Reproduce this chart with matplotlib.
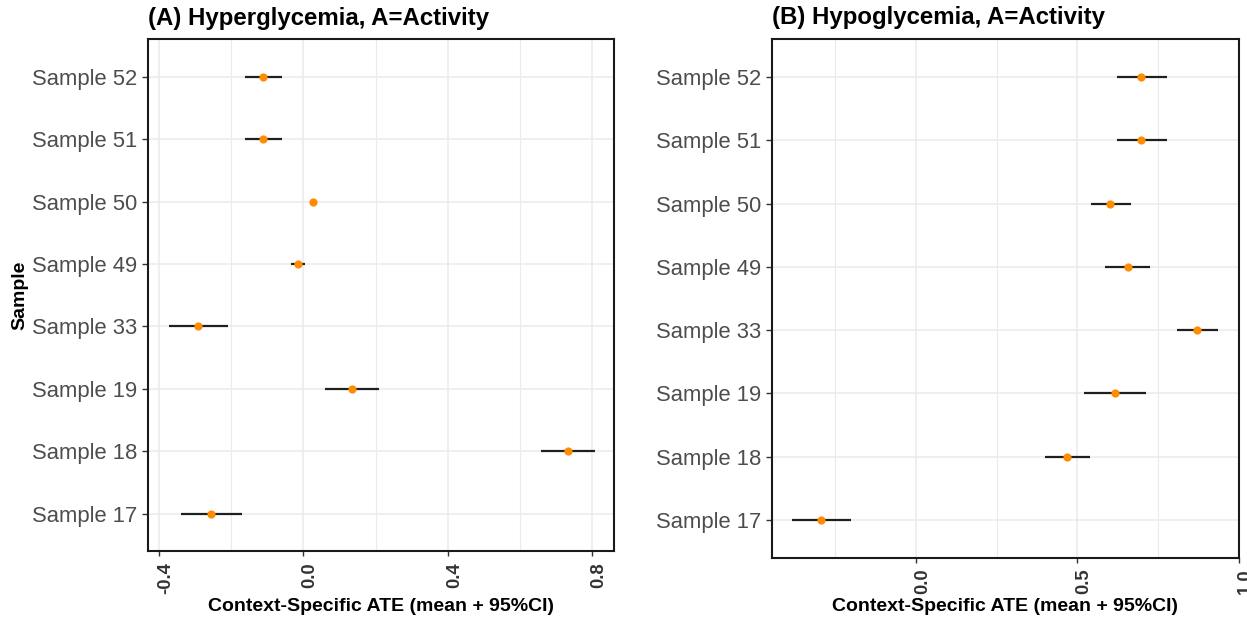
import matplotlib
matplotlib.use("Agg")
import matplotlib.pyplot as plt
from matplotlib.ticker import FixedLocator, FormatStrFormatter
from matplotlib.transforms import ScaledTranslation

plt.rcParams['font.family'] = ['Liberation Sans', 'DejaVu Sans']

# Samples listed bottom-to-top on the y axis
samples = ["Sample 17", "Sample 18", "Sample 19", "Sample 33",
           "Sample 49", "Sample 50", "Sample 51", "Sample 52"]

# (A) Hyperglycemia: context-specific ATE mean and 95% CI
hyper_mean = [-0.255, 0.733, 0.134, -0.291, -0.016, 0.026, -0.112, -0.112]
hyper_lo = [-0.339, 0.659, 0.060, -0.372, -0.034, 0.020, -0.163, -0.163]
hyper_hi = [-0.170, 0.808, 0.210, -0.209, 0.003, 0.032, -0.059, -0.059]

# (B) Hypoglycemia
hypo_mean = [-0.293, 0.469, 0.617, 0.871, 0.655, 0.602, 0.698, 0.698]
hypo_lo = [-0.383, 0.400, 0.520, 0.807, 0.584, 0.541, 0.621, 0.621]
hypo_hi = [-0.202, 0.539, 0.712, 0.936, 0.725, 0.665, 0.776, 0.776]

titles = ["(A) Hyperglycemia, A=Activity", "(B) Hypoglycemia, A=Activity"]
xlabel = "Context-Specific ATE (mean + 95%CI)"
major_a = [-0.4, 0.0, 0.4, 0.8]
minor_a = [-0.2, 0.2, 0.6]
major_b = [0.0, 0.5, 1.0]
minor_b = [-0.25, 0.25, 0.75]

W, H = 1247, 625
fig = plt.figure(figsize=(W / 100, H / 100), dpi=100)


def px_axes(left, top, right, bottom):
    return fig.add_axes([left / W, 1 - bottom / H, (right - left) / W, (bottom - top) / H])


ax_a = px_axes(148, 39.3, 614, 551)
ax_b = px_axes(771.7, 39.3, 1239, 557.7)

ypos = list(range(1, len(samples) + 1))


def draw(ax, mean, lo, hi, title, major, minor, fmt, xlim, xlabel_y):
    ax.set_facecolor("white")
    ax.hlines(ypos, lo, hi, color="#1f1f1f", lw=1.6, zorder=3)
    ax.plot(mean, ypos, "o", color="#FF8C00", markersize=5.9,
            markeredgewidth=0, zorder=4)
    ax.set_xlim(*xlim)
    ax.set_ylim(0.4, 8.6)
    ax.set_yticks(ypos)
    ax.set_yticklabels(samples)
    ax.xaxis.set_major_locator(FixedLocator(major))
    ax.xaxis.set_minor_locator(FixedLocator(minor))
    ax.xaxis.set_major_formatter(FormatStrFormatter(fmt))
    ax.grid(True, which="major", color="#EBEBEB", lw=1.1, zorder=0)
    ax.grid(True, which="minor", axis="x", color="#EBEBEB", lw=0.8, zorder=0)
    ax.set_axisbelow(True)
    for sp in ax.spines.values():
        sp.set_color("#1a1a1a")
        sp.set_linewidth(1.5)
    ax.tick_params(axis="y", length=4.3, width=1.0, color="#333333",
                   pad=3.4, labelsize=15.8, labelcolor="#4D4D4D")
    ax.tick_params(axis="x", which="major", length=3.6, width=1.0,
                   color="#333333", pad=4.3, labelsize=13.3, labelcolor="#333333")
    ax.tick_params(axis="x", which="minor", length=0)
    shift = ScaledTranslation(0.065, 0, fig.dpi_scale_trans)
    for tick in ax.xaxis.get_major_ticks():
        lab = tick.label1
        lab.set_rotation(90)
        lab.set_fontweight("bold")
        lab.set_horizontalalignment("center")
        lab.set_verticalalignment("top")
        lab.set_transform(lab.get_transform() + shift)
    ax.set_title(title, loc="left", fontsize=17.3, fontweight="bold",
                 color="black", y=1 + 14.8 / ax.bbox.height, pad=0)
    ax.set_xlabel(xlabel, fontsize=14, fontweight="bold", color="black")
    ax.xaxis.set_label_coords(0.5, xlabel_y)


draw(ax_a, hyper_mean, hyper_lo, hyper_hi, titles[0], major_a, minor_a, "%.1f",
     (-0.4305, 0.860), -(598 - 551) / 511.7)
draw(ax_b, hypo_mean, hypo_lo, hypo_hi, titles[1], major_b, minor_b, "%.1f",
     (-0.446, 1.0), -(598 - 557.7) / 518.4)

ax_a.set_ylabel("Sample", fontsize=14, fontweight="bold", color="black")
ax_a.yaxis.set_label_coords((28 - 148) / 466, 0.5)

fig.savefig("out.png", dpi=100, facecolor="white")
